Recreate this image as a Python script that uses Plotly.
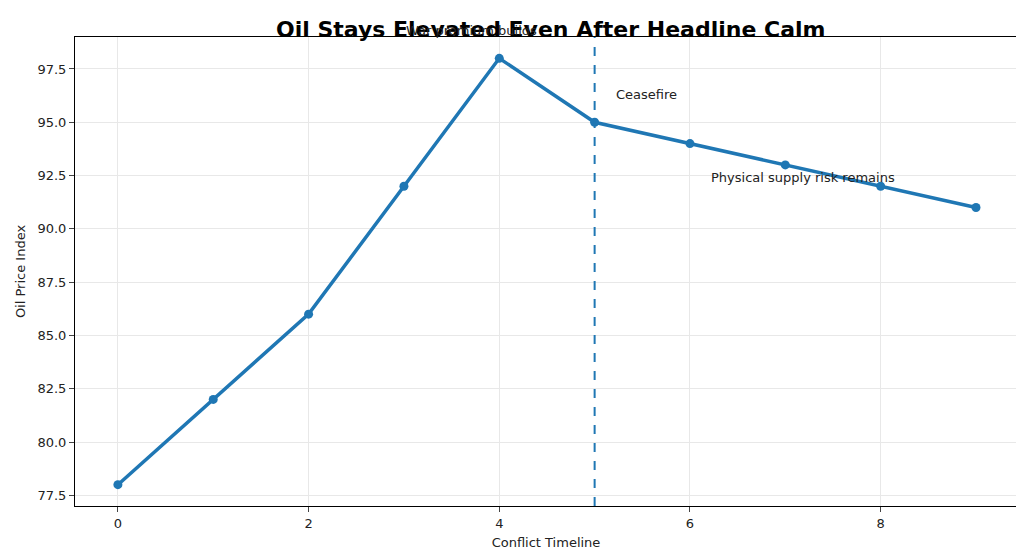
import plotly.graph_objects as go

timeline = [0, 1, 2, 3, 4, 5, 6, 7, 8, 9]
oil_index = [78, 82, 86, 92, 98, 95, 94, 93, 92, 91]
y_ticks = [77.5, 80.0, 82.5, 85.0, 87.5, 90.0, 92.5, 95.0, 97.5]

fig = go.Figure()
fig.add_trace(go.Scatter(x=timeline, y=oil_index, mode="lines+markers",
                         line=dict(color="#1f77b4", width=3.5),
                         marker=dict(size=9, color="#1f77b4")))

fig.add_vline(x=5, line=dict(color="#1f77b4", width=2, dash="dash"))

notes = [(5.2, 96.3, "Ceasefire"),
         (6.2, 92.4, "Physical supply risk remains")]
for x, y, t in notes:
    fig.add_annotation(x=x, y=y, text=t, showarrow=False, xanchor="left",
                       font=dict(size=13, color="#222"))
fig.add_annotation(x=3.0, y=1.035, yref="paper", text="War premium builds",
                   showarrow=False, xanchor="left", font=dict(size=13, color="#222"))

axis = dict(showline=True, linecolor="black", mirror=True, ticks="outside",
            showgrid=True, gridcolor="#e8e8e8", zeroline=False,
            tickfont=dict(size=13, color="#222"))
fig.update_layout(
    width=1024, height=558,
    plot_bgcolor="white", paper_bgcolor="white",
    font=dict(family="DejaVu Sans", color="#222"),
    title=dict(text="<b>Oil Stays Elevated Even After Headline Calm</b>",
               x=0.53, xanchor="center", y=0.975, font=dict(size=22, color="black")),
    margin=dict(l=64, r=15, t=29, b=60),
    showlegend=False,
)
fig.update_xaxes(axis, range=[-0.45, 9.43], tickvals=[0, 2, 4, 6, 8],
                 title=dict(text="Conflict Timeline", font=dict(size=13), standoff=8))
fig.update_yaxes(axis, range=[77.0, 99.0], tickvals=y_ticks, tickformat=".1f",
                 title=dict(text="Oil Price Index", font=dict(size=13), standoff=8))

fig.write_html("out.html")
